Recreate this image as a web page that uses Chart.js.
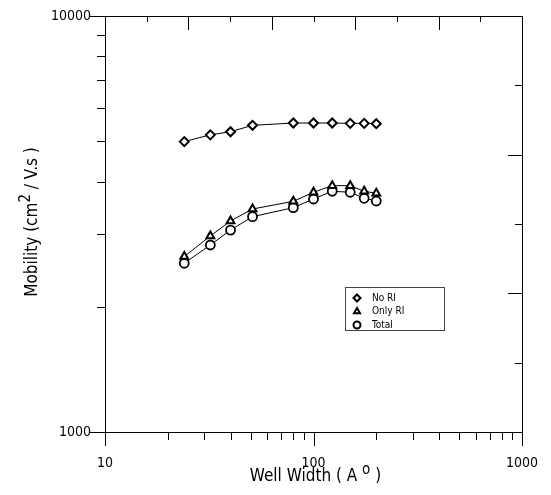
<!DOCTYPE html>
<html>
<head>
<meta charset="utf-8">
<script src="https://cdn.jsdelivr.net/npm/chart.js"></script>
<style>
  html, body { margin: 0; padding: 0; background: #fff; }
  #wrap { width: 551px; height: 495px; position: relative; }
</style>
</head>
<body>
<div id="wrap"><canvas id="mobilityChart"></canvas></div>
<script>
// well width (Angstrom) and mobility (cm^2/V.s)
const wellWidth = [24, 32, 40, 51, 80, 100, 123, 150, 175, 200];
const noRI   = [4990, 5180, 5270, 5460, 5530, 5530, 5530, 5520, 5520, 5510];
const onlyRI = [2640, 2960, 3215, 3436, 3585, 3770, 3910, 3910, 3790, 3750];
const total  = [2545, 2815, 3058, 3293, 3461, 3632, 3790, 3770, 3646, 3592];
const seriesNames = ['No RI', 'Only RI', 'Total'];
const xTickLabels = [10, 100, 1000];
const yTickLabels = [1000, 10000];

const FONT = '"DejaVu Sans Condensed", "DejaVu Sans", sans-serif';

// 1,2,...,9 x each decade between lo and hi
function logTicks(lo, hi) {
    const out = [];
    for (let d = lo; d < hi; d *= 10) {
        for (let k = 1; k < 10; k++) out.push(k * d);
    }
    out.push(hi);
    return out.map(v => ({ value: v }));
}

function pts(ys) {
    return wellWidth.map((x, i) => ({ x: x, y: ys[i] }));
}

function ds(label, ys, style, radius, bw) {
    return {
        label: label,
        data: pts(ys),
        borderColor: '#000',
        borderWidth: 1,
        backgroundColor: '#fff',
        pointStyle: style,
        pointRadius: radius,
        pointBorderWidth: bw,
        pointBackgroundColor: '#fff',
        pointBorderColor: '#000',
        tension: 0
    };
}

// tick marks + labels drawn by hand so lengths and in/out direction match
const tickMarks = {
    id: 'tickMarks',
    afterDraw(chart) {
        const ctx = chart.ctx;
        const a = chart.chartArea;
        const { x, y, x2, y2 } = chart.scales;
        ctx.save();
        ctx.strokeStyle = '#000';
        ctx.lineWidth = 1;
        ctx.beginPath();
        x.ticks.forEach(t => {
            const px = Math.round(x.getPixelForValue(t.value)) + 0.5;
            const major = xTickLabels.includes(t.value);
            ctx.moveTo(px, a.bottom);
            ctx.lineTo(px, a.bottom + (major ? 14 : 8));
        });
        y.ticks.forEach(t => {
            const py = Math.round(y.getPixelForValue(t.value)) + 0.5;
            const major = yTickLabels.includes(t.value);
            ctx.moveTo(a.left, py);
            ctx.lineTo(a.left - (major ? 16 : 8), py);
        });
        x2.ticks.forEach(t => {
            const px = Math.round(x2.getPixelForValue(t.value)) + 0.5;
            ctx.moveTo(px, a.top);
            ctx.lineTo(px, a.top + (t.value % 2 === 0 ? 14 : 6));
        });
        y2.ticks.forEach(t => {
            const py = Math.round(y2.getPixelForValue(t.value)) + 0.5;
            ctx.moveTo(a.right, py);
            ctx.lineTo(a.right - (t.value % 2 === 0 ? 14 : 7), py);
        });
        ctx.stroke();

        ctx.fillStyle = '#000';
        ctx.font = '14px ' + FONT;
        ctx.textAlign = 'center';
        ctx.textBaseline = 'middle';
        xTickLabels.forEach(v => ctx.fillText(String(v), x.getPixelForValue(v), a.bottom + 31));
        ctx.textAlign = 'right';
        yTickLabels.forEach(v => ctx.fillText(String(v), a.left - 14, y.getPixelForValue(v)));
        ctx.restore();
    }
};

function drawRich(ctx, parts, cx, baseline, size) {
    let w = 0;
    parts.forEach(p => {
        ctx.font = (p.sup ? size - 2 : size) + 'px ' + FONT;
        p.w = ctx.measureText(p.t).width;
        w += p.w;
    });
    let xx = cx - w / 2;
    ctx.textAlign = 'left';
    ctx.textBaseline = 'alphabetic';
    parts.forEach(p => {
        ctx.font = (p.sup ? size - 2 : size) + 'px ' + FONT;
        ctx.fillText(p.t, xx, baseline - (p.sup ? 7 : 0));
        xx += p.w;
    });
}

const titlesAndLegend = {
    id: 'titlesAndLegend',
    afterDraw(chart) {
        const ctx = chart.ctx;
        const a = chart.chartArea;
        ctx.save();
        ctx.fillStyle = '#000';
        drawRich(ctx, [{ t: 'Well Width ( A ' }, { t: 'o', sup: true }, { t: ' )' }],
            (a.left + a.right) / 2 + 2, 481, 17);
        ctx.save();
        ctx.translate(37, (a.top + a.bottom) / 2 - 2);
        ctx.rotate(-Math.PI / 2);
        drawRich(ctx, [{ t: 'Mobility (cm' }, { t: '2', sup: true }, { t: ' / V.s )' }], 0, 0, 17);
        ctx.restore();

        // legend box inside the plot
        const bx = 345, by = 287, bw = 99, bh = 43;
        ctx.strokeStyle = '#444';
        ctx.lineWidth = 1;
        ctx.strokeRect(bx + 0.5, by + 0.5, bw, bh);
        ctx.font = '10px ' + FONT;
        ctx.textBaseline = 'middle';
        ctx.textAlign = 'left';
        chart.data.datasets.forEach((d, i) => {
            const yy = by + 11 + i * 13.5;
            ctx.strokeStyle = '#000';
            ctx.fillStyle = '#fff';
            ctx.lineWidth = 2;
            Chart.helpers.drawPoint(ctx, { pointStyle: d.pointStyle, radius: 3.5, borderWidth: 2, rotation: 0 }, bx + 12, yy);
            ctx.fillStyle = '#000';
            ctx.fillText(seriesNames[i], bx + 27, yy);
        });
        ctx.restore();
    }
};

const ctx = document.getElementById('mobilityChart').getContext('2d');
const mobilityChart = new Chart(ctx, {
    type: 'line',
    data: {
        datasets: [
            ds(seriesNames[0], noRI, 'rectRot', 4.5, 2),
            ds(seriesNames[1], onlyRI, 'triangle', 4.5, 2),
            ds(seriesNames[2], total, 'circle', 4.5, 1.8)
        ]
    },
    options: {
        responsive: true,
        maintainAspectRatio: false,
        animation: false,
        layout: { padding: { top: 16, right: 29, left: 0, bottom: 0 } },
        plugins: { legend: { display: false }, tooltip: { enabled: false } },
        scales: {
            x: {
                type: 'logarithmic',
                position: 'bottom',
                min: 10,
                max: 1000,
                grid: { display: false, drawTicks: false },
                border: { display: true, color: '#000', width: 1 },
                ticks: { display: false },
                afterBuildTicks: s => { s.ticks = logTicks(10, 1000); },
                afterFit: s => { s.height = 63; }
            },
            y: {
                type: 'logarithmic',
                position: 'left',
                min: 1000,
                max: 10000,
                grid: { display: false, drawTicks: false },
                border: { display: true, color: '#000', width: 1 },
                ticks: { display: false },
                afterBuildTicks: s => { s.ticks = logTicks(1000, 10000); },
                afterFit: s => { s.width = 105; }
            },
            x2: {
                type: 'linear',
                position: 'top',
                min: 0,
                max: 10,
                grid: { display: false, drawTicks: false },
                border: { display: true, color: '#000', width: 1 },
                ticks: { display: false, stepSize: 1 },
                afterFit: s => { s.height = 0; }
            },
            y2: {
                type: 'linear',
                position: 'right',
                min: 0,
                max: 6,
                grid: { display: false, drawTicks: false },
                border: { display: true, color: '#000', width: 1 },
                ticks: { display: false, stepSize: 1 },
                afterFit: s => { s.width = 0; }
            }
        }
    },
    plugins: [tickMarks, titlesAndLegend]
});
</script>
</body>
</html>
